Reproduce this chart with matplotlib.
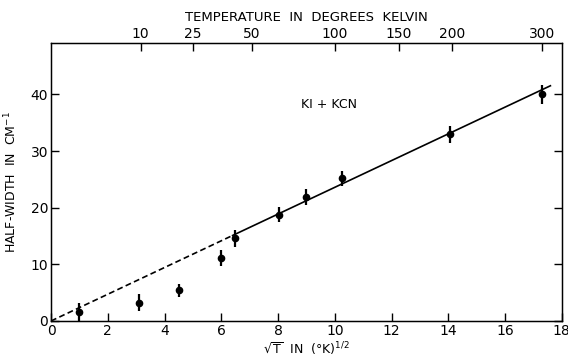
import numpy as np
import matplotlib
matplotlib.use("Agg")
import matplotlib.pyplot as plt

# data
sqrt_t = [1.0, 3.1, 4.5, 6.0, 6.5, 8.05, 9.0, 10.25, 14.05, 17.3]
half_width = [1.6, 3.2, 5.4, 11.1, 14.6, 18.8, 21.9, 25.2, 33.0, 40.0]
err = [1.6, 1.5, 1.2, 1.4, 1.5, 1.4, 1.4, 1.3, 1.5, 1.6]

temp_labels = [10, 25, 50, 100, 150, 200, 300]
x_ticks = [0, 2, 4, 6, 8, 10, 12, 14, 16, 18]
y_ticks = [0, 10, 20, 30, 40]

slope = 2.36      # fitted line through origin
dash_end = 6.4
line_end = 17.6

plt.rcParams['font.family'] = ['DejaVu Sans']

fig = plt.figure(figsize=(5.68, 3.58), dpi=100)
ax = fig.add_axes([0.0898, 0.1034, 0.8992, 0.7751])

xd = np.array([0, dash_end])
ax.plot(xd, slope * xd, color='black', lw=1.2, ls=(0, (3.5, 2)))
xs = np.array([dash_end, line_end])
ax.plot(xs, slope * xs, color='black', lw=1.2)

ax.errorbar(sqrt_t, half_width, yerr=err, fmt='o', color='black',
            ms=4.5, elinewidth=1.6, capsize=0)

ax.set_xlim(0, 18)
ax.set_ylim(0, 49)
ax.set_xticks(x_ticks)
ax.set_yticks(y_ticks)
ax.tick_params(direction='in', length=6, width=1, labelsize=10,
               right=True, pad=2)
for s in ax.spines.values():
    s.set_linewidth(1)

ax.set_xlabel(r'$\sqrt{\mathsf{T}}$  IN  (°K)$^{1/2}$', fontsize=9, labelpad=2)
ax.set_ylabel(r'HALF-WIDTH  IN  CM$^{-1}$', fontsize=9, labelpad=8)

ax.text(8.8, 37.6, 'KI + KCN', fontsize=9)

top = ax.twiny()
top.set_xlim(ax.get_xlim())
top.set_xticks(np.sqrt(temp_labels))
top.set_xticklabels([str(t) for t in temp_labels])
top.tick_params(direction='in', length=6, width=1, labelsize=10, pad=2)
top.set_xlabel('TEMPERATURE  IN  DEGREES  KELVIN', fontsize=9.5, labelpad=4)

fig.savefig('out.png', dpi=100)
